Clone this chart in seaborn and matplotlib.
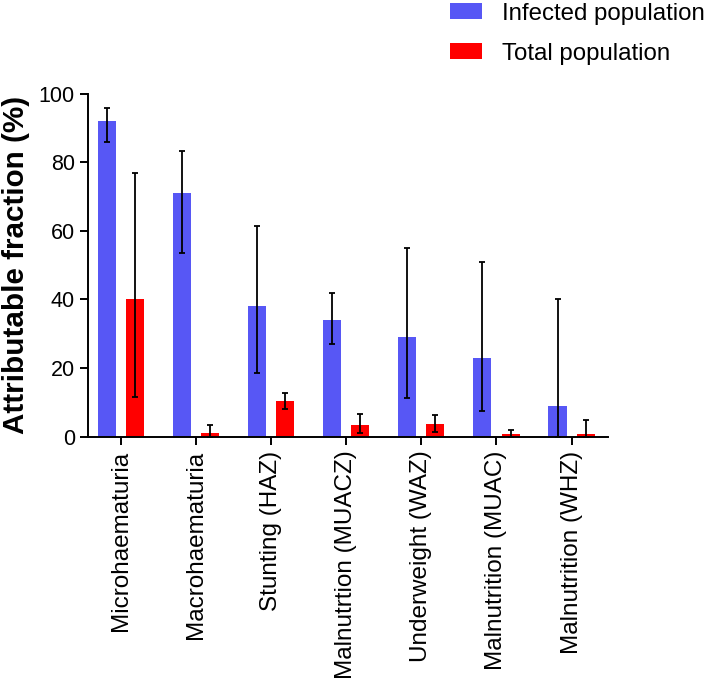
import matplotlib
matplotlib.use("Agg")
import matplotlib.pyplot as plt
import seaborn as sns
import pandas as pd
import numpy as np

categories = ["Microhaematuria", "Macrohaematuria", "Stunting (HAZ)", "Malnutrtion (MUACZ)",
              "Underweight (WAZ)", "Malnutrition (MUAC)", "Malnutrition (WHZ)"]
groups = ["Infected population", "Total population"]
infected_val = [92, 71, 38, 34, 29, 23, 9]
infected_lo = [86, 53.6, 18.5, 27, 11.3, 7.5, 0]
infected_hi = [95.7, 83.3, 61.5, 42, 55, 51, 40]
total_val = [40, 1.2, 10.3, 3.5, 3.8, 0.8, 0.8]
total_lo = [11.5, 0, 8, 1.2, 1.5, 0, 0]
total_hi = [77, 3.5, 12.8, 6.7, 6.3, 2, 4.8]
yticks = [0, 20, 40, 60, 80, 100]
colors = ["#5757F5", "#FF0000"]

sns.set_theme(style="ticks")
plt.rcParams["font.family"] = ["Liberation Sans", "DejaVu Sans"]
plt.rcParams["text.color"] = "black"
plt.rcParams["axes.labelcolor"] = "black"
plt.rcParams["xtick.color"] = "black"
plt.rcParams["ytick.color"] = "black"

df = pd.DataFrame({
    "category": categories * 2,
    "group": [groups[0]] * len(categories) + [groups[1]] * len(categories),
    "value": infected_val + total_val,
})

fig = plt.figure(figsize=(7.08, 6.85), dpi=100)
ax = fig.add_axes([0.1243, 0.3625, 0.735, 0.5007])

sns.barplot(data=df, x="category", y="value", hue="group", order=categories,
            hue_order=groups, palette=colors, width=0.75, gap=0.36,
            errorbar=None, saturation=1, ax=ax, legend=True, linewidth=0)

los = [infected_lo, total_lo]
his = [infected_hi, total_hi]
vals = [infected_val, total_val]
bar_containers = list(ax.containers)
for gi, cont in enumerate(bar_containers):
    xs = [p.get_x() + p.get_width() / 2 for p in cont.patches]
    v = np.array(vals[gi], dtype=float)
    lo = np.array(los[gi], dtype=float)
    hi = np.array(his[gi], dtype=float)
    ax.errorbar(xs, v, yerr=[v - lo, hi - v], fmt="none", ecolor="black",
                elinewidth=1.3, capsize=2.3, capthick=1.3, zorder=5, clip_on=False)

ax.set_ylim(0, 100)
ax.set_xlim(-0.44, len(categories) - 1 + 0.49)
ax.set_yticks(yticks)
ax.set_yticklabels([str(t) for t in yticks], fontsize=15.5)
ax.set_xticks(range(len(categories)))
ax.set_xticklabels(categories, rotation=90, fontsize=17.5)
ax.set_xlabel("")
ax.set_ylabel("Attributable fraction (%)", fontsize=21.3, fontweight="bold", labelpad=6)
for s in ["top", "right"]:
    ax.spines[s].set_visible(False)
for s in ["left", "bottom"]:
    ax.spines[s].set_linewidth(1.4)
    ax.spines[s].set_color("black")
ax.tick_params(axis="both", direction="out", length=6, width=1.4, color="black",
               labelcolor="black")
ax.tick_params(axis="x", pad=4)

handles, labels = ax.get_legend_handles_labels()
ax.get_legend().remove()
fig.legend(handles, labels, loc="upper left", bbox_to_anchor=(0.636, 0.996),
           frameon=False, fontsize=17.3, handlelength=1.33, handleheight=0.62,
           handletextpad=0.83, labelspacing=0.74, borderpad=0, borderaxespad=0)

fig.savefig("out.png", dpi=100)
